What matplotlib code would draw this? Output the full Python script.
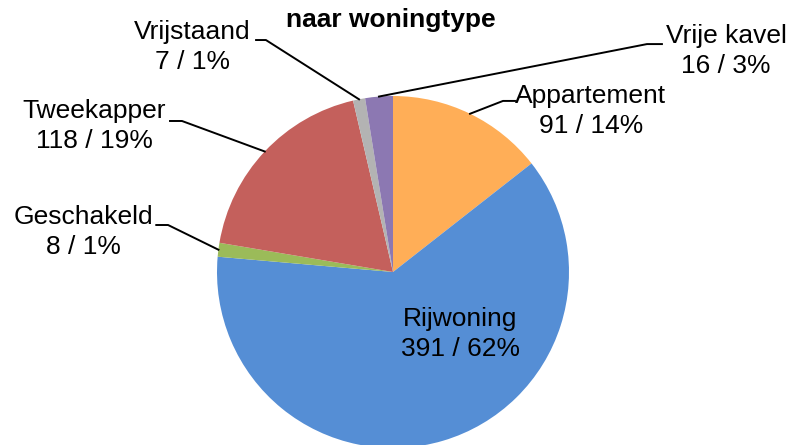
import matplotlib
matplotlib.use("Agg")
import matplotlib.pyplot as plt
import numpy as np

plt.rcParams['font.family'] = ['Liberation Sans', 'DejaVu Sans']

# data
labels = ['Appartement', 'Rijwoning', 'Geschakeld', 'Tweekapper', 'Vrijstaand', 'Vrije kavel']
counts = [91, 391, 8, 118, 7, 16]
pcts = ['14%', '62%', '1%', '19%', '1%', '3%']
colors = ['#FFAE57', '#558ED5', '#9BBB59', '#C4605C', '#B3B3B3', '#8C78B2']

# label layout (data units of the pie axes, radius = 1)
text_pos = [(1.125, 0.915), (0.381, -0.352), (-1.761, 0.227), (-1.699, 0.830), (-1.142, 1.278), (1.892, 1.256)]
elbow_pos = [(0.625, 0.972), None, (-1.278, 0.267), (-1.199, 0.858), (-0.722, 1.318), (1.443, 1.295)]
text_edge = [0.693, None, -1.345, -1.267, -0.778, 1.528]

fig = plt.figure(figsize=(7.92, 4.45), dpi=100)
W, H = 792, 445
cx, cy, r = 393, 272, 176
ax = fig.add_axes([(cx - r) / W, (H - cy - r) / H, 2 * r / W, 2 * r / H])

wedges, _ = ax.pie(counts, colors=colors, startangle=90, counterclock=False,
                   radius=1, wedgeprops=dict(linewidth=0))
ax.set_xlim(-1, 1)
ax.set_ylim(-1, 1)
ax.set_aspect('equal')
ax.axis('off')

for i, w in enumerate(wedges):
    txt = f"{labels[i]}\n{counts[i]} / {pcts[i]}"
    tx, ty = text_pos[i]
    ax.text(tx, ty, txt, ha='center', va='center', fontsize=19,
            linespacing=1.3, clip_on=False)
    if elbow_pos[i] is not None:
        mid = np.deg2rad((w.theta1 + w.theta2) / 2)
        ex, ey = elbow_pos[i]
        ax.plot([np.cos(mid), ex, text_edge[i]], [np.sin(mid), ey, ey],
                color='black', lw=1.4, clip_on=False)

fig.text(391 / W, 1 - 20 / H, 'naar woningtype', ha='center', va='center',
         fontsize=19, fontweight='bold')

fig.savefig('out.png', dpi=100)
